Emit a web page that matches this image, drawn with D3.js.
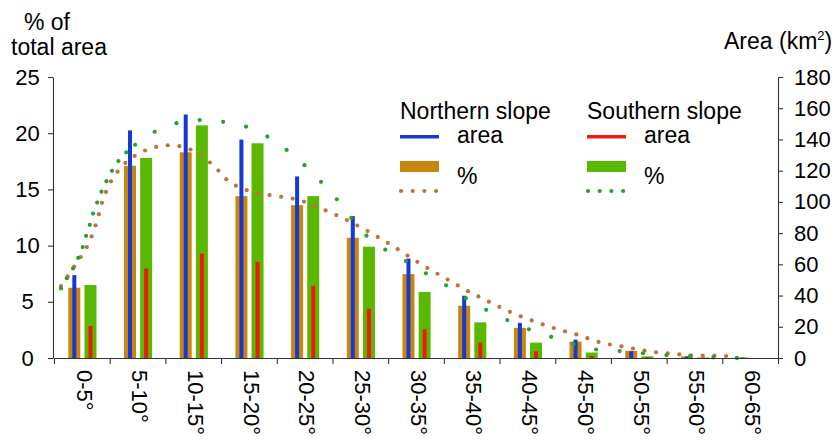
<!DOCTYPE html>
<html>
<head>
<meta charset="utf-8">
<script src="https://cdn.jsdelivr.net/npm/d3@7/dist/d3.min.js"></script>
<style>
  body { margin: 0; background: #fff; }
  text { font-family: "Liberation Sans", Arial, sans-serif; fill: #000; }
</style>
</head>
<body>
<svg id="chart"></svg>
<script>
// slope classes
var categories = ["0-5°", "5-10°", "10-15°", "15-20°", "20-25°", "25-30°", "30-35°",
                  "35-40°", "40-45°", "45-50°", "50-55°", "55-60°", "60-65°"];
// % of total area (left axis)
var northPct = [6.25, 17.1, 18.3, 14.4, 13.6, 10.7, 7.46, 4.65, 2.68, 1.46, 0.64, 0.15, 0.05];
var southPct = [6.49, 17.8, 20.7, 19.1, 14.4, 9.9, 5.87, 3.17, 1.37, 0.49, 0.15, 0.05, 0];
// area in km2 (right axis)
var northArea = [53.1, 145.8, 156, 139.9, 116.3, 90.9, 63.7, 39.9, 22.5, 11.8, 4.3, 1.0, 0.3];
var southArea = [20.5, 57.3, 66.9, 61.6, 46.3, 31.6, 18.4, 9.9, 4.3, 1.4, 0.5, 0.2, 0];
// smoothed % curves, [slope degrees, %]
var northCurve = [[0.63, 6.40], [1.82, 8.14], [2.99, 9.95], [3.77, 11.92], [4.37, 13.99], [5.18, 15.82],
  [6.55, 17.48], [8.41, 18.55], [10.53, 18.93], [12.60, 18.40], [14.30, 17.13], [15.83, 15.62],
  [17.75, 14.79], [19.93, 14.41], [22.02, 14.05], [24.03, 13.28], [25.97, 12.43], [27.86, 11.45],
  [29.72, 10.39], [31.54, 9.24], [33.34, 8.11], [35.19, 7.07], [37.05, 6.01], [38.99, 5.04],
  [40.94, 4.10], [42.94, 3.32], [44.95, 2.64], [47.02, 2.06], [49.11, 1.37], [51.20, 0.99],
  [53.36, 0.60], [55.49, 0.37], [57.64, 0.22], [59.73, 0.20], [60.76, 0.16]];
var southCurve = [[0.63, 6.19], [1.19, 7.16], [1.73, 8.00], [2.18, 8.94], [2.58, 9.88], [2.87, 10.83],
  [3.23, 11.90], [3.53, 12.93], [3.92, 13.94], [4.31, 14.91], [4.79, 15.89], [5.32, 16.83],
  [5.93, 17.71], [6.67, 18.46], [8.38, 19.75], [10.26, 20.67], [12.42, 21.14], [14.54, 21.08],
  [16.64, 20.76], [18.70, 19.96], [21.34, 18.16], [22.89, 16.77], [24.42, 15.20], [25.83, 13.61],
  [27.77, 11.15], [29.54, 9.77], [31.36, 8.76], [33.16, 7.67], [35.02, 6.58], [37.74, 4.86],
  [40.61, 3.41], [43.57, 2.20], [45.64, 1.61], [47.76, 0.87], [49.86, 0.69], [52.01, 0.51],
  [54.11, 0.31], [56.20, 0.20], [59.50, 0.04], [62.76, 0.00]];
var leftTicks = [0, 5, 10, 15, 20, 25];
var rightTicks = [0, 20, 40, 60, 80, 100, 120, 140, 160, 180];
var degTicks = [0, 5, 10, 15, 20, 25, 30, 35, 40, 45, 50, 55, 60, 65];

var colors = { nBar: "#c8870c", sBar: "#5ab800", nLine: "#1539d4", sLine: "#f01a0a",
               nDot: "#c4703a", sDot: "#22a233" };

var W = 838, H = 440;
var svg = d3.select("#chart").attr("width", W).attr("height", H);

var x = d3.scaleBand().domain(categories).range([54, 778]).padding(0);
var xDeg = d3.scaleLinear().domain([0, 65]).range([54, 778]);
var yL = d3.scaleLinear().domain([0, 25]).range([358, 77]);
var yR = d3.scaleLinear().domain([0, 180]).range([358, 77]);
var bw = x.bandwidth();

//------------- bars
svg.append("g").selectAll("rect").data(northPct).join("rect")
  .attr("x", (d, i) => x(categories[i]) + bw * 0.365 - 6).attr("width", 12)
  .attr("y", d => yL(d)).attr("height", d => yL(0) - yL(d)).attr("fill", colors.nBar);
svg.append("g").selectAll("rect").data(southPct).join("rect")
  .attr("x", (d, i) => x(categories[i]) + bw * 0.655 - 6).attr("width", 12)
  .attr("y", d => yL(d)).attr("height", d => yL(0) - yL(d)).attr("fill", colors.sBar);
svg.append("g").selectAll("rect").data(northArea).join("rect")
  .attr("x", (d, i) => x(categories[i]) + bw * 0.365 - 2).attr("width", 4)
  .attr("y", d => yR(d)).attr("height", d => yR(0) - yR(d)).attr("fill", colors.nLine);
svg.append("g").selectAll("rect").data(southArea).join("rect")
  .attr("x", (d, i) => x(categories[i]) + bw * 0.655 - 2).attr("width", 4)
  .attr("y", d => yR(d)).attr("height", d => yR(0) - yR(d)).attr("fill", colors.sLine);

//------------- dotted curves (dots placed along a hidden path)
var line = d3.line().x(d => xDeg(d[0])).y(d => yL(d[1])).curve(d3.curveCatmullRom);
function dotted(data, color, stepFn) {
  var p = svg.append("path").attr("d", line(data)).attr("fill", "none").attr("stroke", "none");
  var node = p.node(), total = node.getTotalLength(), pts = [], l = 0;
  while (l <= total) {
    var pt = node.getPointAtLength(l);
    pts.push(pt);
    l += stepFn(pt);
  }
  svg.append("g").selectAll("circle").data(pts).join("circle")
    .attr("cx", d => d.x).attr("cy", d => d.y).attr("r", 2.1).attr("fill", color);
}
dotted(northCurve, colors.nDot, () => 11.7);
dotted(southCurve, colors.sDot, pt => pt.x < xDeg(6.6) ? 11.7 : 23.5);

//------------- axes
var axisColor = "#333";
var gl = svg.append("g").attr("transform", "translate(53,0)")
  .call(d3.axisLeft(yL).tickValues(leftTicks).tickSize(5).tickSizeOuter(0));
gl.selectAll("text").attr("x", -25.5).attr("text-anchor", "middle").style("font-size", "22px")
  .attr("font-family", null);
var gr = svg.append("g").attr("transform", "translate(778,0)")
  .call(d3.axisRight(yR).tickValues(rightTicks).tickSize(5).tickSizeOuter(0));
gr.selectAll("text").attr("x", 16).style("font-size", "22px").attr("font-family", null);
var gx = svg.append("g").attr("transform", "translate(0,358)")
  .call(d3.axisBottom(xDeg).tickValues(degTicks).tickSize(6).tickSizeOuter(0).tickFormat(""));
svg.selectAll(".domain, .tick line").attr("stroke", axisColor).attr("stroke-width", 1.1);

svg.append("g").selectAll("text").data(categories).join("text")
  .attr("transform", d => "translate(" + (x(d) + bw / 2 + 2.5) + ",370) rotate(90)")
  .attr("dy", "0.35em").style("font-size", "22px").text(d => d);

//------------- axis titles
svg.append("text").attr("x", 47).attr("y", 30).attr("text-anchor", "middle")
  .style("font-size", "23px").text("% of");
svg.append("text").attr("x", 59).attr("y", 55).attr("text-anchor", "middle")
  .style("font-size", "23px").text("total area");
var rt = svg.append("text").attr("x", 724).attr("y", 49).style("font-size", "23px");
rt.append("tspan").text("Area (km");
rt.append("tspan").attr("dy", -9).style("font-size", "13px").text("2");
rt.append("tspan").attr("dy", 9).text(")");

//------------- legend
var legend = [
  { title: "Northern slope", x: 400, line: colors.nLine, bar: colors.nBar, dot: colors.nDot },
  { title: "Southern slope", x: 587, line: colors.sLine, bar: colors.sBar, dot: colors.sDot }
];
var lg = svg.append("g").selectAll("g").data(legend).join("g")
  .attr("transform", d => "translate(" + d.x + ",0)");
lg.append("text").attr("y", 119).style("font-size", "23px").text(d => d.title);
lg.append("rect").attr("y", 135).attr("width", 39).attr("height", 3.5).attr("fill", d => d.line);
lg.append("text").attr("x", 57).attr("y", 143).style("font-size", "23px").text("area");
lg.append("rect").attr("y", 161).attr("width", 39).attr("height", 11).attr("fill", d => d.bar);
lg.append("text").attr("x", 57).attr("y", 184).style("font-size", "23px").text("%");
lg.each(function (d) {
  d3.select(this).selectAll("circle").data([0, 1, 2, 3]).join("circle")
    .attr("cx", k => 1 + k * 11.7).attr("cy", 191).attr("r", 2.1).attr("fill", d.dot);
});
</script>
</body>
</html>
